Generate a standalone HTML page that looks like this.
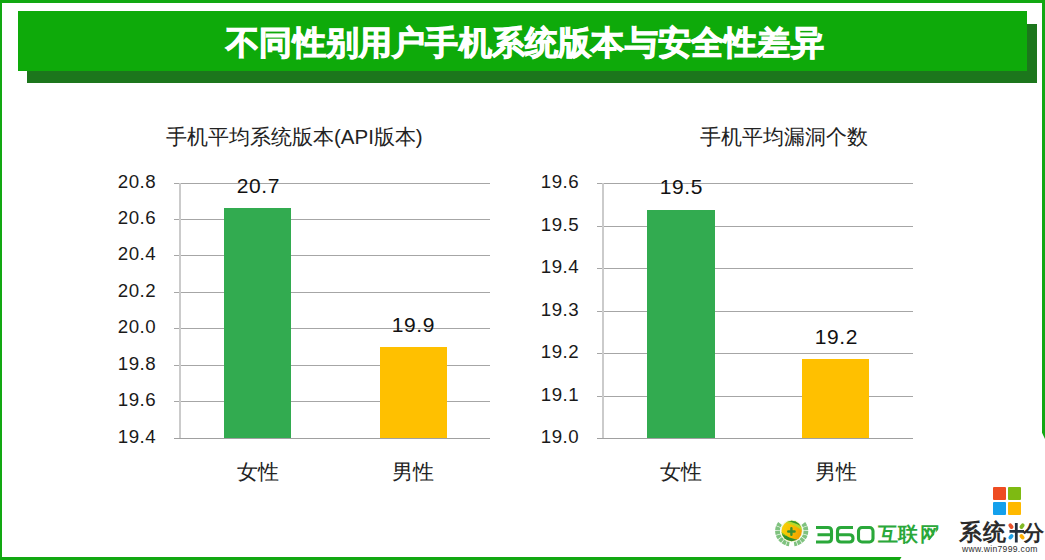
<!DOCTYPE html>
<html><head><meta charset="utf-8">
<style>
html,body{margin:0;padding:0;}
body{width:1045px;height:560px;position:relative;overflow:hidden;background:#fff;font-family:"Liberation Sans",sans-serif;}
.a{position:absolute;}
.bd{background:#12a812;}
.grid{position:absolute;height:1px;background:#a6a6a6;}
.lbl{position:absolute;font-size:18.7px;color:#1a1a1a;text-align:right;width:61px;line-height:20px;letter-spacing:0.45px;margin-top:-1.2px;}
.dl{position:absolute;font-size:21px;color:#111;text-align:center;width:80px;line-height:22px;letter-spacing:0.6px;text-indent:0.6px;}
.cat{position:absolute;font-size:20.5px;color:#222;text-align:center;width:80px;line-height:24px;}
.ttl{position:absolute;font-size:20.5px;color:#222;white-space:nowrap;line-height:24px;}
</style></head>
<body>
<!-- page border -->
<div class="a bd" style="left:0;top:0;width:1045px;height:3px"></div>
<div class="a bd" style="left:0;top:0;width:2px;height:560px"></div>
<div class="a bd" style="left:1042px;top:0;width:3px;height:439px;clip-path:polygon(0 0,100% 0,100% 100%,0 98.6%)"></div>
<div class="a bd" style="left:0;top:557px;width:901.5px;height:3px;clip-path:polygon(0 0,100% 0,99.8% 100%,0 100%)"></div>

<!-- banner -->
<div class="a" style="left:27px;top:24px;width:1010px;height:59px;background:#1c761c"></div>
<div class="a" style="left:18px;top:11px;width:1009px;height:60px;background:#0eaa0a"></div>
<div class="a" style="left:18px;top:11px;width:1010px;height:60px;color:#fff;font-weight:bold;font-size:33px;line-height:60px;text-align:center;white-space:nowrap;letter-spacing:0.2px;-webkit-text-stroke:1px #fff;padding-top:1.5px;padding-left:4px;box-sizing:border-box">不同性别用户手机系统版本与安全性差异</div>

<!-- left chart -->
<div class="ttl" style="left:166px;top:125px">手机平均系统版本(API版本)</div>
<div class="grid" style="left:174px;top:182.5px;width:316px"></div>
<div class="grid" style="left:174px;top:219px;width:316px"></div>
<div class="grid" style="left:174px;top:255px;width:316px"></div>
<div class="grid" style="left:174px;top:292px;width:316px"></div>
<div class="grid" style="left:174px;top:328px;width:316px"></div>
<div class="grid" style="left:174px;top:365px;width:316px"></div>
<div class="grid" style="left:174px;top:401px;width:316px"></div>
<div class="a" style="left:179px;top:183px;width:2px;height:255px;background:#cbcbcb"></div>
<div class="lbl" style="left:95px;top:173px">20.8</div>
<div class="lbl" style="left:95px;top:209px">20.6</div>
<div class="lbl" style="left:95px;top:245px">20.4</div>
<div class="lbl" style="left:95px;top:282px">20.2</div>
<div class="lbl" style="left:95px;top:318px">20.0</div>
<div class="lbl" style="left:95px;top:355px">19.8</div>
<div class="lbl" style="left:95px;top:391px">19.6</div>
<div class="lbl" style="left:95px;top:428px">19.4</div>
<div class="a" style="left:224px;top:208.4px;width:67.4px;height:229.6px;background:#32ab50"></div>
<div class="a" style="left:379.5px;top:347px;width:67.5px;height:91px;background:#ffc000"></div>
<div class="a" style="left:174px;top:438px;width:316px;height:1px;background:#a0a0a0"></div>
<div class="dl" style="left:218px;top:175px">20.7</div>
<div class="dl" style="left:373px;top:314px">19.9</div>
<div class="cat" style="left:218px;top:460px">女性</div>
<div class="cat" style="left:373px;top:460px">男性</div>

<!-- right chart -->
<div class="ttl" style="left:700px;top:125px">手机平均漏洞个数</div>
<div class="grid" style="left:597px;top:183px;width:316px"></div>
<div class="grid" style="left:597px;top:225.5px;width:316px"></div>
<div class="grid" style="left:597px;top:268px;width:316px"></div>
<div class="grid" style="left:597px;top:310.5px;width:316px"></div>
<div class="grid" style="left:597px;top:353px;width:316px"></div>
<div class="grid" style="left:597px;top:395.5px;width:316px"></div>
<div class="a" style="left:602px;top:183px;width:2px;height:255px;background:#cbcbcb"></div>
<div class="lbl" style="left:518px;top:173px">19.6</div>
<div class="lbl" style="left:518px;top:216px">19.5</div>
<div class="lbl" style="left:518px;top:258px">19.4</div>
<div class="lbl" style="left:518px;top:301px">19.3</div>
<div class="lbl" style="left:518px;top:343px">19.2</div>
<div class="lbl" style="left:518px;top:386px">19.1</div>
<div class="lbl" style="left:518px;top:428px">19.0</div>
<div class="a" style="left:647px;top:210px;width:68px;height:228px;background:#32ab50"></div>
<div class="a" style="left:802px;top:359px;width:67px;height:79px;background:#ffc000"></div>
<div class="a" style="left:597px;top:438px;width:316px;height:1px;background:#a0a0a0"></div>
<div class="dl" style="left:641px;top:176px">19.5</div>
<div class="dl" style="left:796px;top:326px">19.2</div>
<div class="cat" style="left:641px;top:460px">女性</div>
<div class="cat" style="left:796px;top:460px">男性</div>

<!-- 360 logo -->
<svg class="a" style="left:770px;top:515px" width="180" height="40" viewBox="0 0 180 40">
 <defs>
  <linearGradient id="ball" x1="0" y1="0" x2="1" y2="0.3">
   <stop offset="0" stop-color="#f6d60a"/><stop offset="0.55" stop-color="#f8c000"/><stop offset="1" stop-color="#f29c00"/>
  </linearGradient>
  <clipPath id="cb"><circle cx="21.7" cy="16" r="10.2"/></clipPath>
  <clipPath id="cw"><polygon points="149,0 172,0 172,10 155,31 149,31"/></clipPath>
 </defs>
 <g fill="none" stroke="#7fc27f" stroke-width="4.8" stroke-dasharray="3.4 0.6">
  <path d="M10.1,8.5 A14.2,13 0 0 0 19.3,28.8"/>
  <path d="M33.3,8.5 A14.2,13 0 0 1 24.1,28.8"/>
 </g>
 <circle cx="21.7" cy="16" r="11.3" fill="#eef8e0"/>
 <g clip-path="url(#cb)">
  <rect x="10" y="4" width="24" height="24" fill="url(#ball)"/>
  <g transform="rotate(22 21.7 16)">
  <path d="M8,2 H36 V13.5 Q28,10.5 22,10 Q15,9.5 8,12 Z" fill="#b8d82a"/>
  <path d="M8,2 H36 V12 Q31,8.2 24,7.6 Q17,7.2 8,9.5 Z" fill="#34962e"/>
  <path d="M8,19 Q14,22.4 22,22.8 Q28,23 36,20.5 V32 H8 Z" fill="#2f8f2f"/>
  <path d="M8,19 Q14,22 20,22.4 Q13,23.4 8,21.5 Z" fill="#8ac22a"/>
  </g>
 </g>
 <path d="M21.4,13.3 V19.7 M18.2,16.5 H24.6" stroke="#3a8f30" stroke-width="2.4" stroke-linecap="round" fill="none"/>
<g fill="none" stroke="#2aa83a" stroke-width="3.1" stroke-linejoin="round">
  <path d="M46,12.5 H58 Q61.5,12.5 61.5,16 V23.5 Q61.5,27 58,27 H46 M47.5,19.8 H61.5"/>
  <path d="M83,12.5 H71 Q67.5,12.5 67.5,16 V23.5 Q67.5,27 71,27 H79.5 Q83,27 83,23.5 V23.3 Q83,19.8 79.5,19.8 H67.5"/>
  <rect x="88.5" y="12.5" width="14.5" height="14.5" rx="3.5"/>
 </g>
 <g font-family="Liberation Sans, sans-serif" font-weight="bold" font-size="19.5" fill="#2aa83a">
  <text x="107.5" y="25.5" style="-webkit-text-stroke:0.9px #2aa83a">互联</text>
  <text x="150" y="25.5" clip-path="url(#cw)" style="-webkit-text-stroke:0.9px #2aa83a">网</text>
 </g>
</svg>

<!-- windows logo -->
<div class="a" style="left:993px;top:487px;width:12.5px;height:13px;background:#ee4c22;border-radius:1px"></div>
<div class="a" style="left:1008px;top:487px;width:13px;height:13px;background:#7eba12;border-radius:1px"></div>
<div class="a" style="left:993px;top:502px;width:12.5px;height:13px;background:#14a0ec;border-radius:1px"></div>
<div class="a" style="left:1008px;top:502px;width:13px;height:13px;background:#ffb900;border-radius:1px"></div>
<div class="a" style="left:959px;top:519px;font-size:23px;font-weight:bold;color:#2b2b2b;line-height:26px;white-space:nowrap">系</div>
<div class="a" style="left:982.5px;top:519px;font-size:23px;font-weight:bold;color:#2b2b2b;line-height:26px;white-space:nowrap">统</div>
<div class="a" style="left:1023px;top:520px;font-size:21px;font-weight:bold;color:#2b2b2b;line-height:26px;white-space:nowrap">分</div>
<svg class="a" style="left:1005px;top:519px" width="22" height="26" viewBox="0 0 22 26">
 <path d="M11.3,4 V23.5 M4.5,12.4 H19" stroke="#243040" stroke-width="2.8" fill="none"/>
 <path d="M5.3,6.3 L6.6,8" stroke="#e8502a" stroke-width="3.8" stroke-linecap="round"/>
 <path d="M17.7,6.3 L16.4,8" stroke="#80b924" stroke-width="3.8" stroke-linecap="round"/>
 <path d="M6.6,17 L5.3,18.6" stroke="#1ea0e8" stroke-width="3.8" stroke-linecap="round"/>
 <path d="M16.4,17 L17.7,18.6" stroke="#ffb000" stroke-width="3.8" stroke-linecap="round"/>
</svg>
<div class="a" style="left:962px;top:544px;font-size:8.6px;color:#2e2e2e;line-height:10px;white-space:nowrap;letter-spacing:0.3px">www.win7999.com</div>
</body></html>
